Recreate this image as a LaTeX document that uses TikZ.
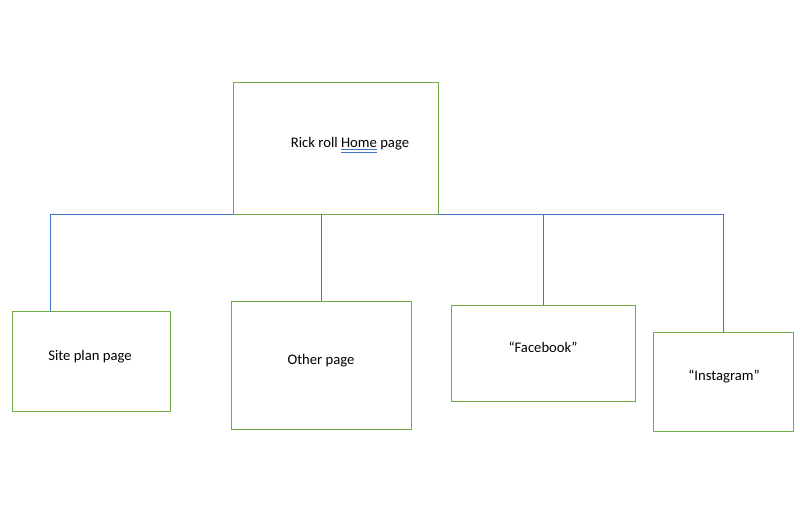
\documentclass[tikz,border=0pt]{standalone}
\usepackage{fontspec}
\setmainfont{Carlito}
\definecolor{boxgreen}{HTML}{70AD47}
\definecolor{lineblue}{HTML}{4472C4}
\definecolor{ulblue}{HTML}{4472C4}
\newcommand\dblul[1]{\setbox0\hbox{#1}\rlap{\color{ulblue}\raisebox{-1.6pt}{\rule{\wd0}{0.6pt}}}\rlap{\color{ulblue}\raisebox{-3.4pt}{\rule{\wd0}{0.6pt}}}\box0\relax}
\begin{document}
\begin{tikzpicture}[x=0.75pt,y=-0.75pt,
  pagebox/.style={draw=boxgreen,line width=0.75pt,inner sep=0pt,outer sep=0pt},
  lbl/.style={font=\fontsize{11pt}{13pt}\selectfont,inner sep=0pt,text=black},
  conn/.style={draw=lineblue,line width=0.75pt}]
\useasboundingbox (0,0) rectangle (800,525);
% boxes
\node[pagebox,minimum width=205*0.75pt,minimum height=132*0.75pt] (home) at (335.5,148) {};
\node[pagebox,minimum width=158*0.75pt,minimum height=100*0.75pt] (site) at (91,361) {};
\node[pagebox,minimum width=180*0.75pt,minimum height=128*0.75pt] (other) at (321,365) {};
\node[pagebox,minimum width=184*0.75pt,minimum height=96*0.75pt] (fb) at (543,353) {};
\node[pagebox,minimum width=140*0.75pt,minimum height=99*0.75pt] (insta) at (723.5,381.5) {};
% labels
\node[lbl] (homet) at (350,145) {Rick roll \dblul{Home} page};
\node[lbl] (sitet) at (90,357) {Site plan page};
\node[lbl] (othert) at (321,361) {Other page};
\node[lbl] (fbt) at (543,347.5) {“Facebook”};
\node[lbl] (instat) at (724,376.5) {“Instagram”};
% connectors
\coordinate (sitetop) at (50,311);
\draw[conn] (home.south west) -| (sitetop);
\draw[conn] (other.north) -- (other.north |- home.south);
\draw[conn] (home.south east) -| (insta.north);
\draw[conn] (fb.north) -- (fb.north |- home.south);
\end{tikzpicture}
\end{document}
